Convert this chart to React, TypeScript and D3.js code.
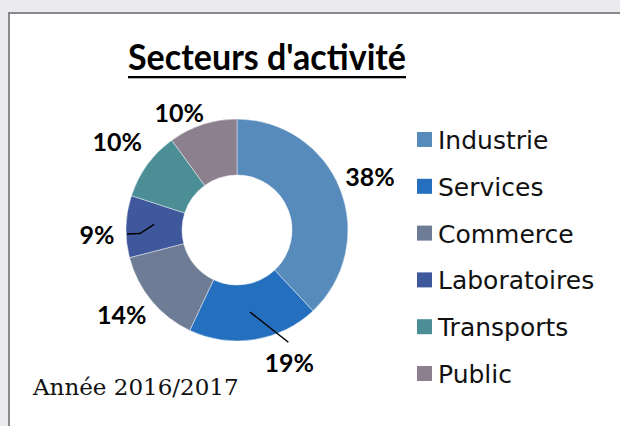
import React, { useEffect, useRef } from "react";
import * as d3 from "d3";

const categories = ["Industrie", "Services", "Commerce", "Laboratoires", "Transports", "Public"];
const values = [38, 19, 14, 9, 10, 10];
const labels = ["38%", "19%", "14%", "9%", "10%", "10%"];
const colors = ["#578BBC", "#2470BE", "#6E7D95", "#3E589B", "#4B8E96", "#8C7F8E"];
const title = "Secteurs d'activité";
const subtitle = "Année 2016/2017";

const W = 620;
const H = 426;
const CX = 237;
const CY = 230;
const R_OUT = 111;
const R_IN = 55;
const LABEL_R = 143;
const labelNudge: [number, number][] = [[0, 0], [30, -8], [-5, -6], [3, 9.5], [-4, -4], [-13.5, 19]];

export default function App() {
  const ref = useRef<SVGSVGElement>(null);
  useEffect(() => {
    const svg = d3.select(ref.current);
    svg.selectAll("*").remove();

    svg.append("rect").attr("x", 0).attr("y", 0).attr("width", W).attr("height", H).attr("fill", "#ebebef");
    svg.append("rect").attr("x", 9).attr("y", 13).attr("width", W + 20).attr("height", H + 20)
      .attr("fill", "#fff").attr("stroke", "#8a8a8a").attr("stroke-width", 2);

    // title
    svg.append("text").attr("x", 128).attr("y", 70)
      .attr("font-family", "Lato").attr("font-weight", 700).attr("font-size", 37).attr("fill", "#000")
      .attr("textLength", 278).attr("lengthAdjust", "spacingAndGlyphs")
      .text(title);
    svg.append("rect").attr("x", 128).attr("y", 76).attr("width", 278).attr("height", 2.3).attr("fill", "#000");

    const pie = d3.pie<number>().sort(null).value(d => d).startAngle(0).endAngle(2 * Math.PI);
    const arcs = pie(values);
    const arc = d3.arc<d3.PieArcDatum<number>>().innerRadius(R_IN).outerRadius(R_OUT);
    const g = svg.append("g").attr("transform", `translate(${CX},${CY})`);
    g.selectAll("path.slice").data(arcs).enter().append("path")
      .attr("d", arc as any)
      .attr("fill", (_, i) => colors[i])
      .attr("stroke", "rgba(255,255,255,0.55)").attr("stroke-width", 0.8);

    const labelArc = d3.arc<d3.PieArcDatum<number>>().innerRadius(LABEL_R).outerRadius(LABEL_R);
    const pos = arcs.map((a, i) => {
      const c = labelArc.centroid(a);
      return [c[0] + labelNudge[i][0], c[1] + labelNudge[i][1]];
    });

    // leader lines
    const c19 = arc.centroid(arcs[1]);
    g.append("path").attr("d", `M${c19[0]},${c19[1]}L${pos[1][0] - 1},${pos[1][1] - 21}`)
      .attr("stroke", "#000").attr("stroke-width", 1.5).attr("fill", "none");
    const c9 = arc.centroid(arcs[3]);
    g.append("path").attr("d", `M${c9[0]},${c9[1] - 3}L${pos[3][0] + 43},${pos[3][1] - 1.5}L${pos[3][0] + 30},${pos[3][1] - 1}`)
      .attr("stroke", "#000").attr("stroke-width", 1.5).attr("fill", "none");

    g.selectAll("text.lbl").data(arcs).enter().append("text")
      .attr("x", (_, i) => pos[i][0]).attr("y", (_, i) => pos[i][1] + 9)
      .attr("text-anchor", "middle")
      .attr("font-family", "Lato").attr("font-weight", 700).attr("font-size", 25).attr("fill", "#000")
      .text((_, i) => labels[i]);

    // legend
    const ly = d3.scaleLinear().domain([0, categories.length - 1]).range([149, 383]);
    const lg = svg.append("g");
    categories.forEach((c, i) => {
      lg.append("rect").attr("x", 417).attr("y", ly(i) - 17).attr("width", 15).attr("height", 15).attr("fill", colors[i]);
      lg.append("text").attr("x", 438).attr("y", ly(i)).attr("font-family", "DejaVu Sans").attr("font-size", 25)
        .attr("fill", "#111").text(c);
    });

    svg.append("text").attr("x", 33).attr("y", 395).attr("font-family", "DejaVu Serif").attr("font-size", 23)
      .attr("fill", "#111").text(subtitle);
  }, []);
  return <svg ref={ref} width={W} height={H} style={{ position: "absolute", left: 0, top: 0 }} />;
}
